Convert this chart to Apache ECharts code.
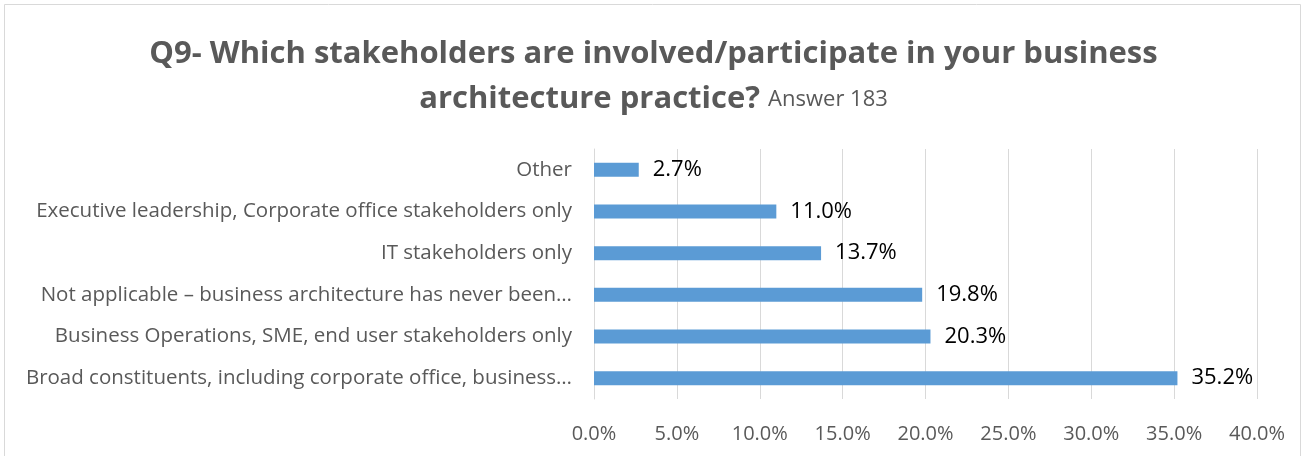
<!DOCTYPE html>
<html><head><meta charset="utf-8">
<script src="https://cdn.jsdelivr.net/npm/echarts@6/dist/echarts.min.js"></script>
<style>html,body{margin:0;padding:0;background:#fff}#c{width:1307px;height:456px}</style>
</head><body><div id="c"></div>
<script>
const categories = [
  "Broad constituents, including corporate office, business…",
  "Business Operations, SME, end user stakeholders only",
  "Not applicable – business architecture has never been…",
  "IT stakeholders only",
  "Executive leadership, Corporate office stakeholders only",
  "Other"
];
const values = [35.2, 20.3, 19.8, 13.7, 11.0, 2.7];
const titleLine1 = "Q9- Which stakeholders are involved/participate in your business";
const titleLine2 = "architecture practice?";
const subtitle = "Answer 183";
const FONT = "'Open Sans', Lato, sans-serif";

const chart = echarts.init(document.getElementById('c'));
chart.setOption({
  animation: false,
  graphic: [{type:'rect', shape:{x:4.5,y:4.5,width:1296,height:460}, style:{fill:'none', stroke:'#d9d9d9', lineWidth:1}}],
  title: {
    text: titleLine1 + "\n{b|" + titleLine2 + "} {s|" + subtitle + "}",
    left: 'center', top: 27, padding: [5, 5, 5, 21],
    textStyle: {
      fontFamily: FONT, fontSize: 31, fontWeight: 'bold', color: '#595959', lineHeight: 45,
      rich: {
        b: {fontFamily: FONT, fontSize: 31, fontWeight: 'bold', color: '#595959'},
        s: {fontFamily: FONT, fontSize: 22, fontWeight: 'normal', color: '#595959'}
      }
    }
  },
  grid: {left: 594, right: 50, top: 149, bottom: 57, containLabel: false},
  xAxis: {
    type: 'value', min: 0, max: 40, interval: 5,
    axisLabel: {formatter: v => v.toFixed(1) + '%', color: '#595959', fontFamily: FONT, fontSize: 20, margin: 25},
    splitLine: {lineStyle: {color: '#d9d9d9'}},
    axisLine: {show: false}, axisTick: {show: false}
  },
  yAxis: {
    type: 'category', data: categories,
    axisLabel: {color: '#595959', fontFamily: FONT, fontSize: 20.5, margin: 22},
    axisLine: {show: true, lineStyle: {color: '#d9d9d9'}}, axisTick: {show: false}
  },
  series: [{
    type: 'bar', data: values, barWidth: 14,
    itemStyle: {color: '#5b9bd5'},
    label: {show: true, position: 'right', distance: 14, formatter: p => p.value.toFixed(1) + '%',
      color: '#000', fontFamily: FONT, fontSize: 22}
  }]
});
</script></body></html>
